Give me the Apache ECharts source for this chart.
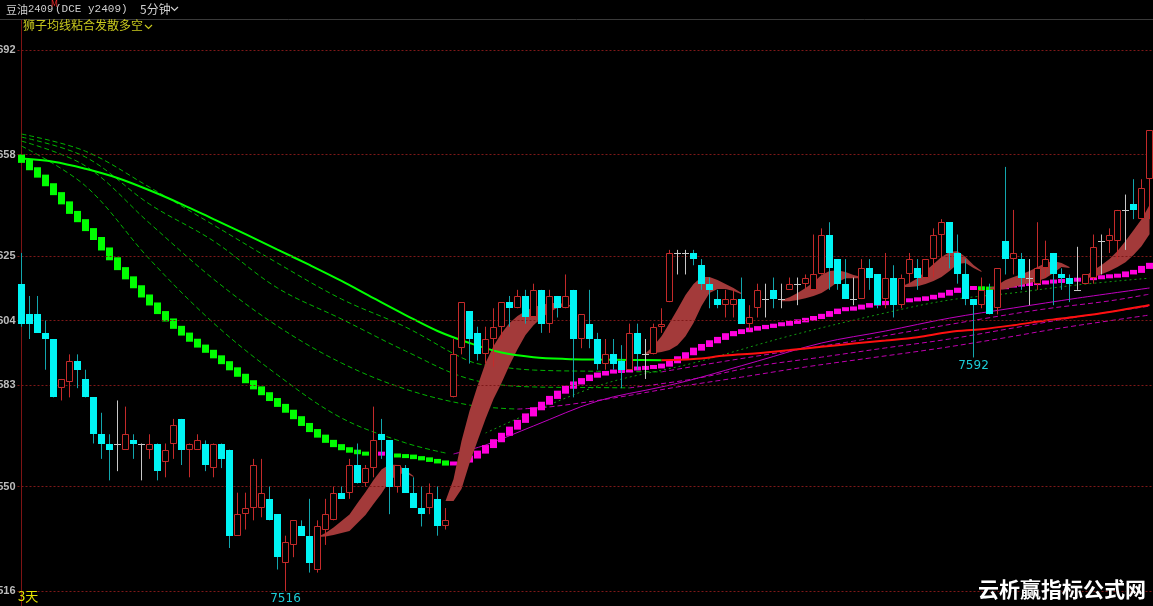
<!DOCTYPE html>
<html><head><meta charset="utf-8">
<script src="https://cdn.jsdelivr.net/npm/echarts@6/dist/echarts.min.js"></script>
<style>html,body{margin:0;padding:0;background:#000;}#c{width:1153px;height:606px;}</style>
</head><body><div id="c"></div>
<script>
// ---- candles (5-minute bars) ----
const opens = [7616,7606,7606,7600,7598,7582,7584,7591,7585,7579,7567,7564,7564,7562,7565,7564,7562,7564,7558,7564,
7572,7562,7562,7564,7556,7564,7562,7534,7541,7543,7543,7546,7541,7525,7531,7537,7534,7523,7536,7539,
7548,7548,7557,7551,7556,7567,7565,7550,7556,7548,7543,7543,7546,7537,7579,7595,7607,7600,7593,7598,
7602,7610,7608,7612,7605,7614,7603,7612,7608,7614,7598,7603,7598,7590,7593,7591,7588,7600,7593,7593,
7602,7610,7626,7626,7626,7622,7616,7611,7609,7609,7611,7603,7608,7611,7614,7611,7614,7616,7616,7614,
7619,7632,7624,7616,7611,7611,7621,7619,7611,7618,7609,7619,7621,7618,7624,7632,7636,7626,7619,7611,
7609,7614,7608,7630,7624,7624,7618,7616,7621,7626,7619,7618,7614,7616,7618,7630,7630,7630,7640,7642,
7637,7650];
const closes = [7603,7603,7600,7598,7579,7585,7591,7588,7579,7567,7564,7562,7564,7567,7564,7564,7564,7555,7562,7570,
7562,7564,7565,7557,7564,7559,7534,7541,7543,7557,7548,7539,7527,7532,7539,7534,7525,7537,7541,7548,
7546,7557,7551,7556,7565,7565,7550,7557,7548,7543,7541,7548,7537,7539,7593,7610,7598,7593,7598,7602,
7610,7608,7612,7605,7614,7603,7612,7608,7612,7598,7606,7598,7590,7593,7590,7588,7600,7593,7593,7602,
7603,7626,7626,7626,7624,7616,7614,7609,7611,7611,7603,7605,7614,7611,7611,7611,7616,7616,7618,7619,
7632,7621,7616,7611,7611,7621,7618,7609,7618,7609,7618,7624,7618,7624,7632,7636,7626,7619,7611,7609,
7614,7606,7621,7624,7626,7618,7618,7621,7624,7619,7618,7616,7614,7619,7628,7630,7632,7640,7640,7640,
7647,7666];
const lows = [7602,7598,7600,7588,7579,7578,7579,7582,7579,7564,7559,7552,7555,7562,7559,7552,7559,7552,7553,7559,
7557,7553,7562,7555,7553,7556,7530,7534,7536,7539,7540,7539,7523,7516,7527,7534,7522,7522,7531,7539,
7546,7546,7551,7550,7553,7559,7541,7548,7548,7543,7537,7541,7534,7536,7579,7593,7590,7591,7590,7589,
7598,7602,7608,7603,7605,7600,7600,7605,7608,7579,7595,7595,7588,7588,7588,7582,7588,7588,7585,7593,
7600,7610,7619,7619,7622,7614,7608,7608,7605,7605,7603,7601,7605,7605,7608,7608,7614,7609,7614,7614,
7619,7614,7614,7611,7609,7611,7614,7608,7608,7605,7608,7616,7614,7618,7618,7624,7621,7616,7609,7592,
7608,7606,7606,7619,7619,7614,7609,7614,7618,7609,7614,7610,7614,7616,7616,7619,7626,7624,7627,7637,
7637,7637];
const highs = [7626,7612,7612,7604,7598,7585,7593,7593,7588,7579,7574,7567,7578,7576,7567,7564,7567,7564,7564,7572,
7572,7564,7567,7565,7564,7564,7562,7548,7548,7559,7559,7550,7541,7534,7539,7539,7546,7539,7546,7550,
7550,7559,7564,7557,7576,7572,7565,7557,7557,7553,7550,7551,7550,7543,7598,7610,7607,7602,7602,7608,
7610,7612,7614,7614,7616,7614,7614,7612,7619,7614,7606,7614,7600,7598,7598,7596,7603,7603,7598,7603,
7608,7627,7627,7627,7627,7624,7618,7614,7614,7614,7618,7609,7616,7616,7618,7616,7618,7618,7619,7632,
7634,7636,7624,7624,7618,7624,7624,7619,7626,7622,7619,7626,7624,7624,7634,7637,7636,7632,7624,7611,
7618,7616,7621,7654,7640,7626,7624,7636,7630,7626,7621,7619,7628,7619,7632,7632,7634,7640,7645,7650,
7650,7666];
const lowMarkIdx = [33, 119];

// ---- y-axis tick labels ----
const yTicks = [7516, 7550, 7583, 7604, 7625, 7658, 7692];

// ---- thick "lion" line (square blocks) ----
const lionLinePrev0 = 7657.6;
const lionLine = [7655.8,7653.4,7651.0,7648.2,7645.3,7642.3,7639.2,7636.5,7633.6,7630.7,
7627.3,7624.1,7620.9,7617.9,7615.0,7612.0,7609.4,7606.6,7604.2,7601.8,
7599.6,7597.6,7595.7,7594.0,7592.2,7590.3,7588.3,7586.2,7584.1,7582.1,
7580.2,7578.3,7576.4,7574.5,7572.4,7570.2,7568.2,7566.4,7564.7,7563.3,
7562.3,7561.5,7561.0,7560.7,7560.6,7560.7,7560.3,7560.1,7559.9,7559.4,
7559.0,7558.5,7558.0,7557.3,7557.5,7558.3,7559.6,7561.2,7563.0,7564.9,
7567.0,7569.0,7571.2,7573.3,7575.3,7577.1,7579.0,7580.7,7582.3,7583.7,
7584.8,7585.9,7586.6,7587.1,7587.4,7587.6,7588.2,7588.4,7588.6,7588.9,
7589.5,7590.6,7591.9,7593.2,7594.7,7595.9,7597.1,7598.2,7599.4,7600.1,
7600.7,7601.2,7601.7,7602.1,7602.5,7602.8,7603.4,7603.9,7604.4,7605.0,
7605.7,7606.6,7607.4,7607.7,7608.1,7608.7,7609.2,7609.5,7609.9,7610.1,
7610.3,7610.6,7610.9,7611.4,7611.9,7612.6,7613.5,7614.2,7614.5,7614.6,
7614.5,7614.4,7614.7,7615.1,7615.4,7615.7,7615.9,7616.2,7616.4,7616.7,
7616.9,7617.1,7617.3,7617.5,7617.8,7618.1,7618.4,7618.6,7619.5,7620.0,
7621.3,7622.3];

// ---- long moving average (green falling / red rising) ----
const longMa = [[0,7656.7],[4,7655.7],[8,7653.4],[12,7650.4],[16,7646.4],[20,7641.9],[24,7637.0],[28,7632.1],
[32,7627.1],[36,7622.1],[40,7616.9],[44,7611.3],[48,7605.8],[52,7600.6],[56,7596.7],[60,7593.6],[64,7592.1],
[68,7591.5],[72,7591.3],[76,7591.2],[80,7591.1],[84,7591.5],[88,7592.6],[92,7593.4],[96,7594.4],[100,7595.5],
[104,7596.5],[108,7597.5],[112,7598.6],[116,7600.3],[120,7601.2],[124,7602.5],[128,7604.0],[132,7605.3],
[136,7606.8],[140,7608.6],[141,7609.1]];

// ---- fan of dashed averages ----
const fan1 = [[0,7664.7],[8,7659.1],[16,7647.4],[24,7635.1],[32,7622.7],[40,7611.0],[48,7601.9],[56,7590.8],
[60,7588.9],[64,7587.9],[72,7587.5],[80,7587.3],[88,7590.8],[96,7594.1],[104,7597.3],[112,7600.9],[120,7604.5],
[128,7607.8],[136,7610.4],[141,7612.6]];
const fan2 = [[0,7663.7],[8,7657.2],[16,7641.9],[24,7629.9],[32,7614.6],[40,7604.5],[48,7594.1],[56,7585.0],
[64,7582.4],[72,7582.2],[76,7582.1],[84,7585.0],[92,7589.2],[100,7592.1],[108,7595.1],[116,7598.0],[124,7601.6],
[132,7605.2],[141,7608.7]];
const fan3 = [[0,7662.4],[8,7654.3],[16,7635.7],[24,7617.5],[32,7602.2],[40,7590.2],[48,7581.7],[56,7576.5],
[62,7575.2],[66,7575.9],[74,7578.8],[82,7582.4],[90,7585.6],[98,7588.9],[106,7591.8],[114,7594.7],[122,7598.0],
[130,7601.6],[141,7605.8]];
const fan4 = [[0,7660.8],[8,7647.8],[16,7624.0],[24,7603.2],[32,7586.3],[40,7572.3],[48,7564.2],[53,7560.9]];
const thinMagenta = [[54,7560.6],[58,7563.5],[64,7569.7],[72,7577.8],[80,7582.4],[84,7584.9],[92,7590.8],
[100,7596.7],[108,7600.6],[116,7604.8],[124,7608.1],[132,7611.3],[141,7614.6]];
const dottedGreen = [[58,7567.4],[72,7582.7],[84,7590.2],[96,7599.0],[108,7606.5],[116,7610.7],[124,7613.0],
[132,7615.6],[141,7617.8]];

// ---- red ribbon (fast above slow) ----
const ribbonStart = [37, 53, 78, 95, 110, 121, 133];
const ribbonFast = [
 [7533.6,7534.9,7536.7,7538.8,7540.9,7544.6,7548.2,7552.1,7555.5,7557.2,7557.0,7555.4,7553.4],
 [7545.3,7552.4,7564.8,7574.6,7582.7,7590.2,7595.7,7599.9,7603.2,7605.5,7607.1,7608.4,7609.1,7609.7,7609.7,7609.4,7608.7],
 [7593.4,7595.7,7598.9,7603.2,7607.7,7612.3,7615.9,7618.2,7618.2,7617.2,7615.9,7614.6,7613.0],
 [7610.7,7611.6,7613.0,7614.6,7616.5,7618.8,7620.1,7620.4,7619.8,7618.8,7618.2],
 [7615.2,7616.2,7617.8,7620.1,7622.4,7624.7,7626.3,7626.6,7624.7,7622.1,7620.1],
 [7614.6,7615.6,7617.2,7618.2,7619.1,7620.1,7621.4,7622.7,7623.4,7622.7,7621.4],
 [7618.5,7620.4,7622.1,7624.0,7626.6,7629.9,7633.4,7637.0,7641.6]
];
const ribbonSlow = [
 [7533.6,7533.7,7534.2,7534.9,7535.5,7538.1,7540.7,7544.3,7547.7,7551.8,7553.9,7554.4,7553.1],
 [7545.3,7545.3,7549.2,7557.6,7564.8,7572.0,7578.5,7583.7,7589.5,7594.7,7599.3,7602.5,7604.8,7606.8,7608.1,7608.7,7608.4],
 [7593.1,7593.4,7593.8,7594.4,7596.0,7598.9,7603.2,7608.7,7613.0,7614.3,7614.3,7613.6,7612.6],
 [7610.3,7610.3,7610.7,7611.3,7612.0,7613.0,7614.6,7616.5,7617.8,7617.8,7617.8],
 [7614.9,7614.9,7615.2,7615.9,7616.9,7618.2,7620.1,7622.4,7622.7,7621.1,7619.8],
 [7614.3,7613.9,7614.3,7614.9,7615.6,7616.2,7616.9,7617.8,7619.5,7621.4,7621.1],
 [7617.8,7618.2,7619.1,7620.1,7621.4,7623.0,7625.3,7628.2,7632.1]
];

// ---------------------------------------------------------------
const CJK = '"Noto Sans CJK SC","Noto Sans",sans-serif';
const GREEN = '#00ff00', MAG = '#ff00dd';
function splitAtMin(arr){let k=0;arr.forEach((p,j)=>{if(p[1]<arr[k][1])k=j;});return [arr.slice(0,k+1),arr.slice(k)];}
function lineS(data,color,type,width,z){return {type:'line',data,smooth:0.35,showSymbol:false,symbol:'none',silent:true,
  lineStyle:{color,width,type},z};}

const series = [];
[fan1,fan2,fan3].forEach(f=>{const [a,b]=splitAtMin(f);
  series.push(lineS(a,'#00b400',[5,3],1,1)); series.push(lineS(b,'#c000b0',[5,3],1,1));});
const fan4S = lineS(fan4,'#00b400',[5,3],1,1);
fan4S.markLine = {silent:true,symbol:['none','none'],label:{show:false},animation:false,
  lineStyle:{color:'#7e1818',type:[2,2],width:1},data:yTicks.map(v=>({yAxis:v}))};
series.push(fan4S);
series.push(lineS(thinMagenta,'#c000c0','solid',1,1));
series.push(lineS(dottedGreen,'#129a12',[2,3],1,1));

// square blocks
series.push({type:'custom',z:2,silent:true,data:lionLine.map((v,i)=>[i,v]),encode:{x:0,y:1},
  renderItem:(params,api)=>{
    const i=api.value(0),v=api.value(1);
    const prev=i===0?lionLinePrev0:lionLine[i-1];
    const p1=api.coord([i,v]),p0=api.coord([i,prev]);
    let top=Math.min(p0[1],p1[1])-1.5,bot=Math.max(p0[1],p1[1])+1.5;
    if(bot-top<4){top=p1[1]-2;bot=p1[1]+2;}
    const left=Math.round(p1[0]-3.5);
    return {type:'rect',shape:{x:left,y:top,width:7,height:bot-top},style:{fill:v>=prev?MAG:GREEN}};
  }});

// ribbon
series.push({type:'custom',z:3,silent:true,data:ribbonStart.map((s,k)=>[s,ribbonFast[k][0]]),encode:{x:0,y:1},
  renderItem:(params,api)=>{
    const k=params.dataIndex,s=ribbonStart[k];
    const up=ribbonFast[k].map((v,j)=>api.coord([s+j,v]));
    const dn=ribbonSlow[k].map((v,j)=>api.coord([s+j,v])).reverse();
    return {type:'polygon',shape:{points:up.concat(dn)},style:{fill:'#a33a3a'}};
  }});

// long MA
const [maDown,maUp]=splitAtMin(longMa);
series.push(lineS(maDown,GREEN,'solid',2,4));
series.push(lineS(maUp,'#ff1010','solid',2,4));

// candles
series.push({type:'custom',z:5,silent:true,
  data:opens.map((o,i)=>[i,o,closes[i],lows[i],highs[i]]),encode:{x:0,y:[1,2,3,4]},
  renderItem:(params,api)=>{
    const i=api.value(0),o=api.value(1),c=api.value(2),l=api.value(3),h=api.value(4);
    const po=api.coord([i,o]),pc=api.coord([i,c]),pl=api.coord([i,l]),ph=api.coord([i,h]);
    const left=Math.round(po[0]-3.5), wx=left+3.5;
    const yt=Math.round(Math.min(po[1],pc[1])), yb=Math.round(Math.max(po[1],pc[1]));
    const ch=[];
    if(o>c){
      ch.push({type:'line',shape:{x1:wx,y1:ph[1],x2:wx,y2:pl[1]},style:{stroke:'#12a6ae',lineWidth:1}});
      ch.push({type:'rect',shape:{x:left,y:yt,width:7,height:Math.max(1,yb-yt)},style:{fill:'#00f4f4'}});
    } else if(o<c){
      const col='#c42a2a';
      ch.push({type:'line',shape:{x1:wx,y1:ph[1],x2:wx,y2:yt},style:{stroke:col,lineWidth:1}});
      ch.push({type:'line',shape:{x1:wx,y1:yb,x2:wx,y2:pl[1]},style:{stroke:col,lineWidth:1}});
      ch.push({type:'rect',shape:{x:left+0.5,y:yt+0.5,width:6,height:Math.max(1,yb-yt-1)},style:{fill:'#000',stroke:col,lineWidth:1}});
    } else {
      const col='#c8c8c8';
      ch.push({type:'line',shape:{x1:wx,y1:ph[1],x2:wx,y2:pl[1]},style:{stroke:col,lineWidth:1}});
      ch.push({type:'line',shape:{x1:left,y1:yt+0.5,x2:left+7,y2:yt+0.5},style:{stroke:col,lineWidth:1}});
    }
    if(lowMarkIdx.indexOf(i)>=0){
      ch.push({type:'text',style:{text:String(l),x:wx,y:pl[1]+2,align:'center',verticalAlign:'top',
        textAlign:'center',textVerticalAlign:'top',fill:'#1ccbd6',font:'12px "DejaVu Sans",sans-serif'}});
    }
    return {type:'group',children:ch};
  }});

const chart = echarts.init(document.getElementById('c'),null,{renderer:'canvas'});
chart.setOption({
  backgroundColor:'#000',
  animation:false,
  grid:{left:17.5,top:20,width:1136,height:587,containLabel:false,outerBoundsMode:'none'},
  xAxis:{type:'value',min:-0.5,max:141.5,show:false},
  yAxis:{type:'value',min:7510.8,max:7701.8,position:'left',
    axisLine:{show:true,lineStyle:{color:'#7e1414',width:1}},axisTick:{show:false},splitLine:{show:false},
    axisLabel:{customValues:yTicks,color:'#bcbcbc',fontSize:11,fontWeight:'bold',fontFamily:'"Liberation Sans",Arial,sans-serif',
      margin:2,formatter:v=>String(v)}},
  series,
  graphic:[
    {type:'line',shape:{x1:0,y1:19.5,x2:1153,y2:19.5},style:{stroke:'#3a3a3a',lineWidth:1},z:100},
    {type:'text',x:6,y:4,style:{text:'豆油',fill:'#cfcfcf',font:'11px '+CJK},z:100},
    {type:'text',x:28,y:4,style:{text:'2409',fill:'#cfcfcf',font:'10.5px "Liberation Mono",monospace'},z:100},
    {type:'text',x:51,y:1,style:{text:'M',fill:'#e02828',font:'8px "DejaVu Sans",sans-serif'},z:100},
    {type:'text',x:55,y:4,style:{text:'(DCE y2409)',fill:'#cfcfcf',font:'11px "Liberation Mono",monospace'},z:100},
    {type:'text',x:140,y:3,style:{text:'5分钟',fill:'#cfcfcf',font:'12px '+CJK},z:100},
    {type:'polyline',shape:{points:[[171,7],[174.5,10.5],[178,7]]},style:{stroke:'#cfcfcf',lineWidth:1.2,fill:null},z:100},
    {type:'text',x:23,y:19,style:{text:'狮子均线粘合发散多空',fill:'#c8c81e',font:'12px '+CJK},z:100},
    {type:'polyline',shape:{points:[[145,25],[148.5,28.5],[152,25]]},style:{stroke:'#c8c81e',lineWidth:1.2,fill:null},z:100},
    {type:'text',x:18,y:590,style:{text:'3天',fill:'#e6e600',font:'13px '+CJK},z:100},
    {type:'text',x:978,y:579,style:{text:'云析赢指标公式网',fill:'#ffffff',font:'bold 21px '+CJK,stroke:'#000',lineWidth:1},z:100}
  ]
});
</script></body></html>
